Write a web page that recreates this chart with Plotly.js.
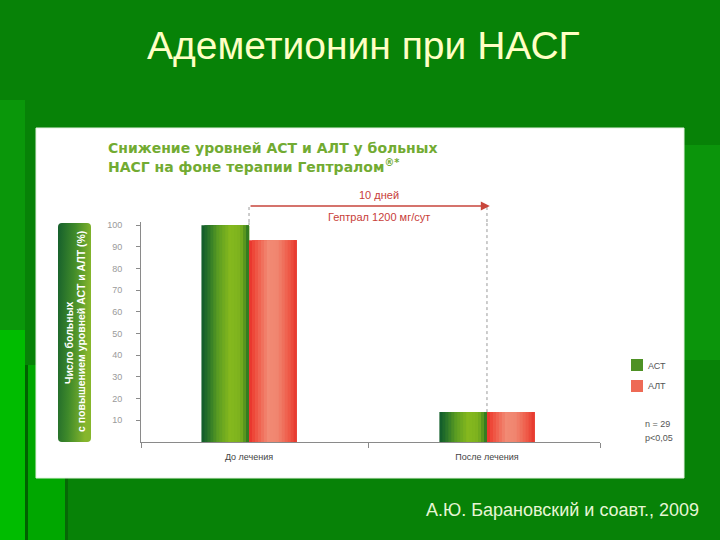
<!DOCTYPE html>
<html>
<head>
<meta charset="utf-8">
<script src="https://cdn.plot.ly/plotly-3.0.1.min.js"></script>
<style>html,body{margin:0;padding:0;background:#078207;}#chart{width:720px;height:540px;}</style>
</head>
<body>
<div id="chart"></div>
<script>
// ---- data ----
const categories = ['До лечения', 'После лечения'];
const xPos = [0, 1];
const seriesNames = ['АСТ', 'АЛТ'];
const astValues = [100, 13.8];
const altValues = [93.1, 13.8];
const yTickVals = [10, 20, 30, 40, 50, 60, 70, 80, 90, 100];

// ---- helpers ----
const W = 720, H = 540;
const px = x => x / W;
const py = y => 1 - y / H;
const FONT = 'Liberation Sans, Arial, sans-serif';
const BOLDFONT = 'DejaVu Sans, Liberation Sans, Arial, sans-serif';

function hexToRgb(h){h=h.replace('#','');return [0,2,4].map(i=>parseInt(h.substr(i,2),16));}
function interp(stops,t){
  for(let i=0;i<stops.length-1;i++){
    const [a,ca]=stops[i],[b,cb]=stops[i+1];
    if(t>=a&&t<=b){const f=(t-a)/(b-a);const A=hexToRgb(ca),B=hexToRgb(cb);
      return 'rgb('+A.map((v,k)=>Math.round(v+(B[k]-v)*f)).join(',')+')';}
  }
  return stops[stops.length-1][1];
}
const greenStops=[[0,'#0f5a2b'],[0.12,'#236f2a'],[0.35,'#5c9d22'],[0.6,'#86b91e'],[0.82,'#7cb11e'],[0.94,'#4a8c20'],[1,'#1c6a22']];
const redStops=[[0,'#e8302a'],[0.1,'#ee4a3a'],[0.4,'#f28a74'],[0.6,'#f0856f'],[0.85,'#ee5846'],[1,'#e5352b']];

const barW = 0.2, N = 16;
const traces = [];
function addStripes(values, name, stops, startOffset){
  for(let i=0;i<N;i++){
    const t=(i+0.5)/N;
    traces.push({
      type:'bar', x:xPos, y:values, name:name,
      offset: startOffset + i*barW/N, width: barW - i*barW/N,
      marker:{color:interp(stops,t), line:{width:0}},
      showlegend:false, hoverinfo:'skip'
    });
  }
}
addStripes(astValues, seriesNames[0], greenStops, -barW);
addStripes(altValues, seriesNames[1], redStops, 0);

const xRange = [-0.454, 1.475];
const yRange = [0, 101.5];
const yDomain = [1-442/H, 1-222/H];
const arrowPaperY = py(206);
const boundaries = [xRange[0]].concat(xPos.slice(0,-1).map((v,i)=>(v+xPos[i+1])/2), [xRange[1]]);

const shapes = [
  // slide background accents
  {type:'rect',xref:'paper',yref:'paper',x0:px(0),x1:px(25),y0:py(100),y1:py(330),fillcolor:'#0a970a',line:{width:0},layer:'below'},
  {type:'rect',xref:'paper',yref:'paper',x0:px(0),x1:px(25),y0:py(330),y1:py(540),fillcolor:'#00bc00',line:{width:0},layer:'below'},
  {type:'rect',xref:'paper',yref:'paper',x0:px(25),x1:px(28),y0:py(365),y1:py(540),fillcolor:'#006200',line:{width:0},layer:'below'},
  {type:'rect',xref:'paper',yref:'paper',x0:px(28),x1:px(65),y0:py(365),y1:py(540),fillcolor:'#00a700',line:{width:0},layer:'below'},
  {type:'rect',xref:'paper',yref:'paper',x0:px(65),x1:px(68),y0:py(478),y1:py(540),fillcolor:'#066806',line:{width:0},layer:'below'},
  {type:'rect',xref:'paper',yref:'paper',x0:px(684),x1:px(720),y0:py(145),y1:py(360),fillcolor:'#0b950b',line:{width:0},layer:'below'},
  // white panel
  {type:'rect',xref:'paper',yref:'paper',x0:px(36),x1:px(684),y0:py(128),y1:py(478),fillcolor:'#ffffff',line:{color:'#e4f2e0',width:1},layer:'below'},
  // legend swatches
  {type:'rect',xref:'paper',yref:'paper',x0:px(631),x1:px(643),y0:py(359),y1:py(371),fillcolor:'#4e9124',line:{width:0}},
  {type:'rect',xref:'paper',yref:'paper',x0:px(631),x1:px(643),y0:py(380),y1:py(392),fillcolor:'#ee6a55',line:{width:0}}
];
// dotted guide lines from the bar tops up to the arrow
xPos.forEach((x,i)=>{
  shapes.push({type:'line',xref:'x',yref:'y',x0:x,x1:x,y0:Math.max(astValues[i],altValues[i]),y1:yRange[1],
    line:{color:'#9a9a9a',width:1,dash:'dot'}});
  shapes.push({type:'line',xref:'x',yref:'paper',x0:x,x1:x,y0:yDomain[1],y1:arrowPaperY,
    line:{color:'#9a9a9a',width:1,dash:'dot'}});
});

const ann = (text,x,y,size,color,extra)=>Object.assign({text:text,xref:'paper',yref:'paper',x:x,y:y,
  xanchor:'center',yanchor:'middle',showarrow:false,font:{family:FONT,size:size,color:color}},extra||{});

const annotations = [
  ann('Адеметионин при НАСГ',px(363),py(46),39,'#ffffc4'),
  ann('<b>Снижение уровней АСТ и АЛТ у больных</b>',px(106),py(148),14,'#72ab32',{xanchor:'left',font:{family:BOLDFONT,size:14,color:'#72ab32'}}),
  ann('<b>НАСГ на фоне терапии Гептралом<sup>®*</sup></b>',px(106),py(166),14,'#72ab32',{xanchor:'left',font:{family:BOLDFONT,size:14,color:'#72ab32'}}),
  ann('10 дней',px(379),py(195),11,'#c8403a'),
  ann('Гептрал 1200 мг/сут',px(379),py(217),11,'#c8403a'),
  {text:'',xref:'x',yref:'paper',x:xPos[1]+0.012,y:arrowPaperY,axref:'x',ayref:'pixel',ax:xPos[0],ay:0,
    showarrow:true,arrowhead:2,arrowsize:1.2,arrowwidth:1.5,arrowcolor:'#c8463c'},
  ann('<b>Число больных</b>',px(69),py(343),10.5,'#ffffff',{textangle:-90}),
  ann('<b>с повышением уровней АСТ и АЛТ (%)</b>',px(81),py(332),10.5,'#ffffff',{textangle:-90}),
  ann(seriesNames[0],px(646),py(366),9,'#555555',{xanchor:'left'}),
  ann(seriesNames[1],px(646),py(386),9,'#555555',{xanchor:'left'}),
  ann('n = 29',px(643),py(424),9,'#555555',{xanchor:'left'}),
  ann('p&lt;0,05',px(643),py(438),9,'#555555',{xanchor:'left'}),
  ann('А.Ю. Барановский и соавт., 2009',px(701),py(510),18,'#e6f6d4',{xanchor:'right'})
];

const boxSvg = "<svg xmlns='http://www.w3.org/2000/svg' width='34' height='220' viewBox='0 0 34 220'>" +
  "<defs><linearGradient id='g' x1='0' y1='0' x2='1' y2='0.25'>" +
  "<stop offset='0' stop-color='#155f2c'/><stop offset='0.5' stop-color='#3f8a2a'/><stop offset='1' stop-color='#86b62c'/>" +
  "</linearGradient></defs><rect x='0' y='0' width='34' height='220' rx='4' ry='4' fill='url(#g)'/></svg>";

const layout = {
  width:W, height:H,
  margin:{l:0,r:0,t:0,b:0},
  paper_bgcolor:'#078207', plot_bgcolor:'rgba(0,0,0,0)',
  barmode:'overlay', showlegend:false,
  font:{family:FONT},
  xaxis:{domain:[px(141),px(600)], range:xRange, showgrid:false, zeroline:false,
    showline:true, linecolor:'#8a8a8a', linewidth:1,
    tickvals:xPos, ticktext:categories, ticks:'', ticklabelstandoff:6,
    tickfont:{family:FONT,size:9,color:'#444444'},
    minor:{tickvals:boundaries, ticks:'outside', ticklen:5, tickcolor:'#8a8a8a', showgrid:false}},
  yaxis:{domain:yDomain, range:yRange, showgrid:false, zeroline:false,
    showline:true, linecolor:'#8a8a8a', linewidth:1,
    tickvals:yTickVals, ticks:'outside', ticklen:4, tickcolor:'#8a8a8a', ticklabelstandoff:12,
    tickfont:{family:FONT,size:9,color:'#9a9a9a'}},
  shapes:shapes,
  annotations:annotations,
  images:[{source:'data:image/svg+xml;charset=utf-8,'+encodeURIComponent(boxSvg),
    xref:'paper',yref:'paper',x:px(58),y:py(223),sizex:33/W,sizey:219/H,sizing:'stretch',
    xanchor:'left',yanchor:'top',layer:'above'}]
};

Plotly.newPlot('chart', traces, layout, {displayModeBar:false, staticPlot:true});
</script>
</body>
</html>
